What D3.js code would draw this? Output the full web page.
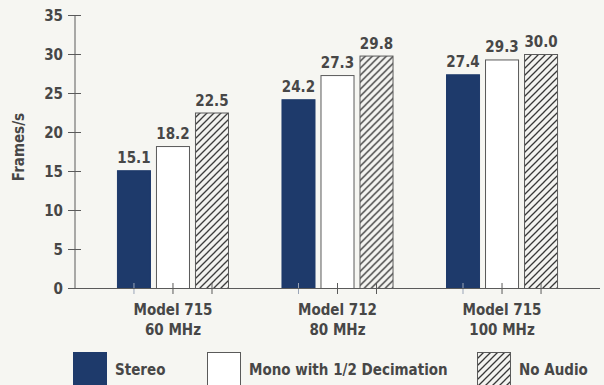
<!DOCTYPE html>
<html>
<head>
<meta charset="utf-8">
<script src="https://cdn.jsdelivr.net/npm/d3@7/dist/d3.min.js"></script>
<style>
  html, body { margin: 0; padding: 0; background: #f6f6f2; }
  svg { display: block; }
  text { font-family: "Liberation Sans Narrow", "DejaVu Sans Condensed", "Roboto Condensed", sans-serif; font-weight: bold; fill: #474747; }
</style>
</head>
<body>
<svg id="chart" width="604" height="385"></svg>
<script>
// Frame rates per machine and audio setting
const categories = ["Model 715|60 MHz", "Model 712|80 MHz", "Model 715|100 MHz"];
const seriesNames = ["Stereo", "Mono with 1/2 Decimation", "No Audio"];
const stereo = [15.1, 24.2, 27.4];
const mono = [18.2, 27.3, 29.3];
const noAudio = [22.5, 29.8, 30.0];
const yTicks = [0, 5, 10, 15, 20, 25, 30, 35];
const yLabel = "Frames/s";

const seriesValues = [stereo, mono, noAudio];

const svg = d3.select("#chart");

const colors = { dark: "#1e3a6b", stroke: "#5a5a5a", hatchBg: "#f3f3f0", hatch: "#383838", white: "#ffffff" };

// Diagonal hatching
const defs = svg.append("defs");
const pat = defs.append("pattern")
  .attr("id", "hatch")
  .attr("patternUnits", "userSpaceOnUse")
  .attr("width", 7).attr("height", 7);
pat.append("rect").attr("width", 7).attr("height", 7).attr("fill", colors.hatchBg);
pat.append("path")
  .attr("d", "M-1,8 L8,-1 M-2,2 L2,-2 M5,9 L9,5")
  .attr("stroke", colors.hatch).attr("stroke-width", 1.3).attr("fill", "none");

const fills = [colors.dark, colors.white, "url(#hatch)"];
const strokes = [colors.dark, colors.stroke, colors.stroke];

const x0 = d3.scaleBand().domain(categories).range([75, 600]).paddingInner(0.319).paddingOuter(0.255);
const x1 = d3.scaleBand().domain(seriesNames).range([0, x0.bandwidth()]).paddingInner(0.128);
const y = d3.scaleLinear().domain([0, 35]).range([288, 15]);

// Y axis
const yAxis = svg.append("g").attr("transform", "translate(75,0)")
  .call(d3.axisLeft(y).tickValues(yTicks).tickSize(7).tickPadding(5));
yAxis.select(".domain").attr("stroke", colors.stroke).attr("d", `M0,${y(35)}V${y(0)}`);
yAxis.selectAll(".tick line").attr("stroke", colors.stroke).attr("x1", 6).attr("x2", -7);
yAxis.selectAll(".tick text").attr("font-size", 15).attr("font-family", null).attr("fill", "#474747").attr("dy", "0.36em");

// Y label
svg.append("text")
  .attr("transform", "translate(24,147) rotate(-90)")
  .attr("text-anchor", "middle")
  .attr("font-size", 15)
  .text(yLabel);

// Bars
const groups = svg.append("g").selectAll("g").data(categories).join("g")
  .attr("transform", d => `translate(${x0(d)},0)`);

seriesNames.forEach((s, si) => {
  groups.append("rect")
    .attr("x", x1(s) + 0.5)
    .attr("y", (d, i) => y(seriesValues[si][i]) + 0.5)
    .attr("width", x1.bandwidth() - 1)
    .attr("height", (d, i) => y(0) - y(seriesValues[si][i]))
    .attr("fill", fills[si])
    .attr("stroke", strokes[si])
    .attr("stroke-width", 1);
  groups.append("text")
    .attr("x", x1(s) + x1.bandwidth() / 2)
    .attr("y", (d, i) => y(seriesValues[si][i]) - 7)
    .attr("text-anchor", "middle")
    .attr("font-size", 15)
    .text((d, i) => seriesValues[si][i].toFixed(1));
});

// X axis line and bar ticks
svg.append("line").attr("x1", 75).attr("x2", 600).attr("y1", y(0) + 0.5).attr("y2", y(0) + 0.5)
  .attr("stroke", colors.stroke);
seriesNames.forEach(s => {
  groups.append("line")
    .attr("x1", x1(s) + x1.bandwidth() / 2).attr("x2", x1(s) + x1.bandwidth() / 2)
    .attr("y1", y(0) - 5).attr("y2", y(0) + 6)
    .attr("stroke", (s === seriesNames[0]) ? "#9aa5b8" : colors.stroke);
});

// Category labels
groups.append("text")
  .attr("x", x0.bandwidth() / 2).attr("y", 315)
  .attr("text-anchor", "middle").attr("font-size", 15)
  .text(d => d.split("|")[0]);
groups.append("text")
  .attr("x", x0.bandwidth() / 2).attr("y", 335)
  .attr("text-anchor", "middle").attr("font-size", 15)
  .text(d => d.split("|")[1]);

// Legend
const legendX = [73, 207, 477];
const legend = svg.append("g").selectAll("g").data(seriesNames).join("g")
  .attr("transform", (d, i) => `translate(${legendX[i]},352)`);
legend.append("rect")
  .attr("x", 0.5).attr("y", 0.5).attr("width", 33).attr("height", 40)
  .attr("fill", (d, i) => fills[i]).attr("stroke", (d, i) => strokes[i]);
legend.append("text")
  .attr("x", 42).attr("y", 22.5)
  .attr("font-size", 15)
  .text(d => d);
</script>
</body>
</html>
